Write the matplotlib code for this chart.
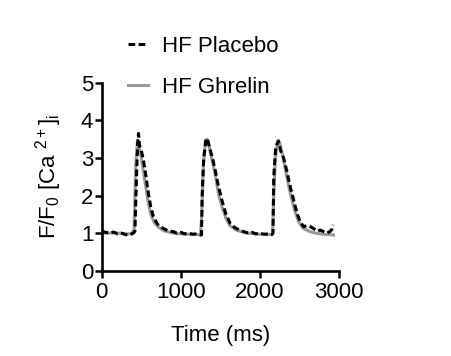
import matplotlib
matplotlib.use("Agg")
import matplotlib.pyplot as plt

plt.rcParams["font.family"] = ["Liberation Sans", "DejaVu Sans"]
plt.rcParams["mathtext.default"] = "regular"

# HF Placebo trace (time in ms, F/F0)
placebo_t = [0, 50, 100, 150, 200, 250, 300, 350, 400, 420, 440, 455, 465, 480, 500,
             527, 560, 590, 620, 653, 700, 738, 800, 850, 907, 950, 1000, 1050, 1100,
             1150, 1200, 1244, 1262, 1270, 1290, 1320, 1335, 1360, 1400, 1434, 1470,
             1519, 1570, 1624, 1680, 1740, 1792, 1850, 1900, 1950, 2000, 2050, 2100,
             2150, 2165, 2175, 2200, 2235, 2260, 2299, 2340, 2384, 2430, 2468, 2510,
             2552, 2590, 2637, 2680, 2720, 2760, 2806, 2850, 2890, 2910, 2925]
placebo_y = [1.05, 1.02, 1.0, 1.03, 0.98, 1.0, 0.96, 0.95, 1.0, 1.05, 2.5, 3.4, 3.65, 3.3, 3.2,
             2.95, 2.5, 2.06, 1.7, 1.44, 1.25, 1.17, 1.1, 1.05, 1.04, 1.0, 1.02, 0.98, 1.0,
             0.97, 0.98, 0.95, 0.95, 2.0, 3.0, 3.5, 3.52, 3.3, 3.0, 2.68, 2.3,
             1.88, 1.5, 1.26, 1.15, 1.08, 1.04, 1.0, 1.02, 0.98, 1.0, 0.97, 0.98,
             0.96, 1.0, 2.5, 3.3, 3.45, 3.2, 3.0, 2.65, 2.23, 1.85, 1.53, 1.3,
             1.17, 1.2, 1.17, 1.12, 1.05, 1.08, 1.04, 1.0, 1.05, 1.1, 1.22]

# HF Ghrelin trace
ghrelin_t = [0, 100, 200, 300, 380, 410, 430, 450, 470, 500, 530, 560, 590, 620, 660,
             720, 800, 900, 1000, 1100, 1200, 1250, 1265, 1285, 1310, 1330, 1360, 1400,
             1440, 1480, 1520, 1570, 1620, 1700, 1800, 1900, 2000, 2100, 2160, 2175,
             2195, 2225, 2250, 2290, 2340, 2390, 2440, 2490, 2550, 2620, 2700, 2800, 2930]
ghrelin_y = [1.0, 1.0, 1.0, 0.98, 0.98, 1.1, 2.8, 3.4, 3.3, 3.0, 2.6, 2.2, 1.8, 1.5, 1.3,
             1.15, 1.05, 1.0, 0.98, 0.97, 0.96, 0.97, 1.5, 2.8, 3.45, 3.5, 3.3, 2.9,
             2.5, 2.0, 1.7, 1.4, 1.2, 1.08, 1.02, 0.99, 0.97, 0.96, 0.97, 2.0,
             3.0, 3.45, 3.4, 3.05, 2.5, 2.0, 1.6, 1.3, 1.12, 1.05, 1.0, 0.97, 0.95]

fig = plt.figure(figsize=(4.51, 3.56), dpi=100)
ax = fig.add_axes([0.2255, 0.2396, 0.5262, 0.5281])

l1, = ax.plot(placebo_t, placebo_y, color="black", linewidth=2.2,
              linestyle=(0, (2.2, 1.1)), label="HF Placebo", zorder=3)
l2, = ax.plot(ghrelin_t, ghrelin_y, color="#999999", linewidth=2.2,
              label="HF Ghrelin", zorder=2)

ax.set_xlim(0, 3000)
ax.set_ylim(0, 5)
ax.set_xticks([0, 1000, 2000, 3000])
ax.set_yticks([0, 1, 2, 3, 4, 5])
ax.tick_params(labelsize=16, width=1.8, length=5, direction="out", pad=1)
ax.tick_params(axis="x", pad=3)
for s in ("top", "right"):
    ax.spines[s].set_visible(False)
for s in ("left", "bottom"):
    ax.spines[s].set_linewidth(1.9)

ax.set_xlabel("Time (ms)", fontsize=16, labelpad=16)
ax.set_ylabel(r"F/F$_0$ [Ca $^{2+}$]$_i$", fontsize=16, labelpad=12)

fig.legend(handles=[l1, l2], loc="upper left", bbox_to_anchor=(0.24, 0.955),
           frameon=False, fontsize=16, handlelength=0.9, handletextpad=0.6,
           labelspacing=0.9)

fig.savefig("out.png", dpi=100)
